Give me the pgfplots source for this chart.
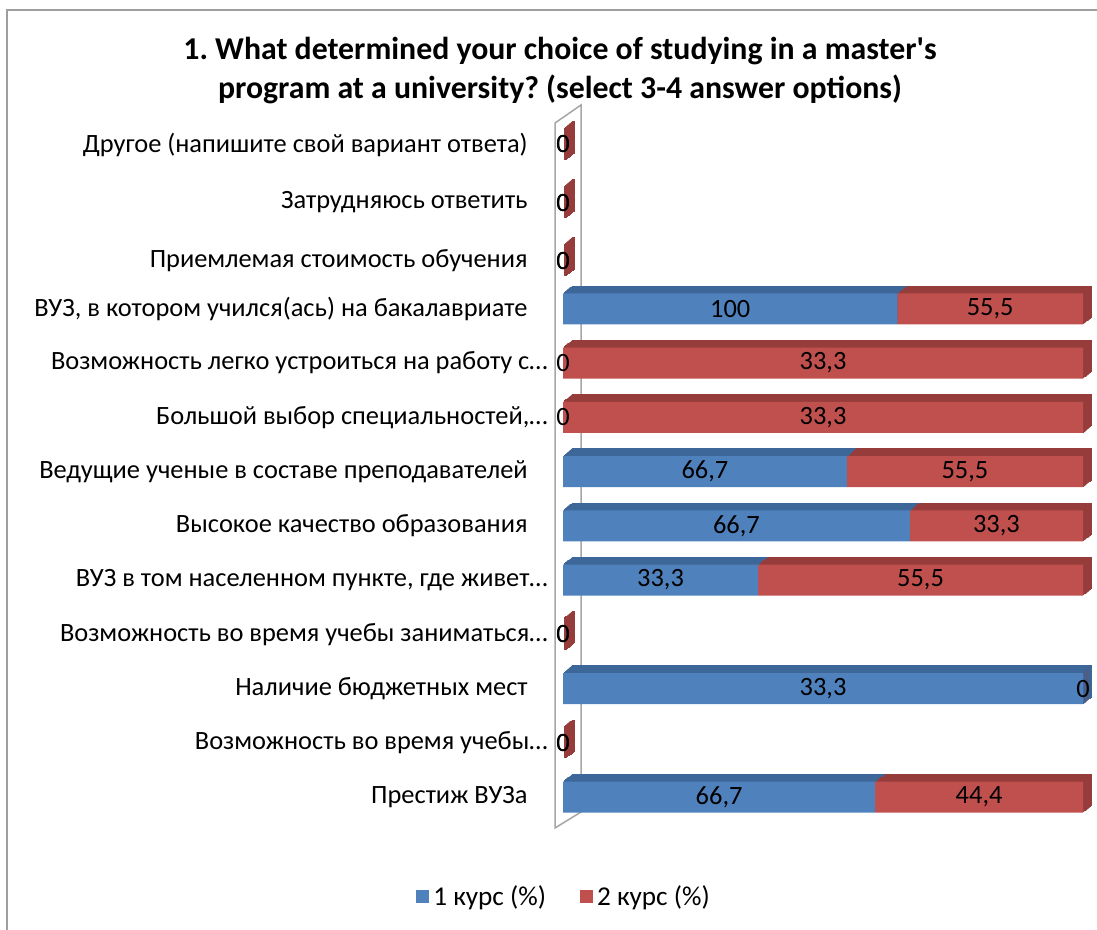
\documentclass[border=0pt]{standalone}
\usepackage{pgfplots}
\pgfplotsset{compat=1.18}
\usepackage{pgfplotstable}
\usepackage{fontspec}
\setmainfont{Carlito}
\newfontfamily\titlefont{Carlito}[Ligatures=TeXOff]
\frenchspacing

\definecolor{bfront}{HTML}{4F81BD}
\definecolor{bdark}{HTML}{3D6699}
\definecolor{rfront}{HTML}{C0504D}
\definecolor{rdark}{HTML}{963C3A}

% pos = row position (bottom row 0); a = 1 курс, b = 2 курс
\pgfplotstableread{
pos a b
0 66.7 44.4
1 0 0
2 33.3 0
3 0 0
4 33.3 55.5
5 66.7 33.3
6 66.7 55.5
7 0 33.3
8 0 33.3
9 100 55.5
9.89 0 0
10.96 0 0
12.03 0 0
}\survey
% 100% stacking
\pgfplotstablecreatecol[create col/expr={100*\thisrow{a}/max(\thisrow{a}+\thisrow{b},0.001)}]{pa}\survey
\pgfplotstablecreatecol[create col/expr={100*\thisrow{b}/max(\thisrow{a}+\thisrow{b},0.001)}]{pb}\survey
\pgfplotstablecreatecol[create col/expr={max(\thisrow{pb},0.5)}]{pbside}\survey
\pgfplotstablecreatecol[create col/expr={\thisrow{pa}/2}]{ca}\survey
\pgfplotstablecreatecol[create col/expr={\thisrow{pa}+\thisrow{pb}/2}]{cb}\survey

\pgfplotsset{
  base/.style={
    scale only axis, width=260pt, height=358pt,
    at={(281.5pt,-414.8pt)}, anchor=south west,
    xmin=0, xmax=100, ymin=-0.6, ymax=12.6,
  },
  bars/.style={base, xbar stacked, bar width=15.5pt},
}

\begin{document}
\begin{tikzpicture}[x=0.5pt,y=0.5pt]
\useasboundingbox (0,0) rectangle (1097,-930);
\draw[gray!75, line width=1pt] (7,-930) -- (7,-10) -- (1097,-10);

\node[font=\titlefont\bfseries\fontsize{15.9}{19.5}\selectfont, align=center] at (560,-71)
  {1. What determined your choice of studying in a master's\\program at a university? (select 3-4 answer options)};

% back wall
\draw[gray!70, line width=0.75pt, fill=white] (555,-828) -- (555,-123) -- (581,-105) -- (581,-812) -- cycle;

% depth of the bars: shifted dark copies
\foreach \k in {8,7,...,1}{
  \begin{axis}[bars, hide axis, xshift=\k*0.56pt, yshift=\k*0.44pt]
    \addplot[fill=bdark, draw=bdark, line width=0.6pt] table[x=pa,y=pos]{\survey};
    \addplot[fill=rdark, draw=rdark, line width=0.6pt] table[x=pbside,y=pos]{\survey};
  \end{axis}
}

\begin{axis}[bars,
  axis line style={draw=none}, major tick length=0pt,
  xtick=\empty, ytick={0,1,2,3,4,5,6,7,8,9,9.89,10.96,12.03},
  yticklabels={
    Престиж ВУЗа\hspace*{10pt},
    Возможность во время учебы…,
    Наличие бюджетных мест\hspace*{10pt},
    Возможность во время учебы заниматься…,
    {ВУЗ в том населенном пункте, где живет…},
    Высокое качество образования\hspace*{10pt},
    Ведущие ученые в составе преподавателей\hspace*{10pt},
    {Большой выбор специальностей,…},
    Возможность легко устроиться на работу с…,
    {ВУЗ, в котором учился(ась) на бакалавриате\hspace*{10pt}},
    Приемлемая стоимость обучения\hspace*{10pt},
    Затрудняюсь ответить\hspace*{10pt},
    Другое (напишите свой вариант ответа)\hspace*{10pt}},
  yticklabel style={font=\fontsize{13.2}{15}\selectfont, inner sep=0pt, xshift=-7.5pt},
  legend style={at={(0.004,-0.094)}, anchor=center, draw=none, fill=none,
    legend columns=2, font=\fontsize{13.6}{15}\selectfont,
    /tikz/every even column/.append style={column sep=15pt}},
  legend image code/.code={\fill[#1, draw=none] (0pt,-3.25pt) rectangle (6.5pt,3.25pt);},
]
  \addplot[fill=bfront, draw=none] table[x=pa,y=pos]{\survey};
  \addlegendentry{1 курс (\%)}
  \addplot[fill=rfront, draw=none] table[x=pb,y=pos]{\survey};
  \addlegendentry{2 курс (\%)}
\end{axis}

% value labels, centred in each segment
\begin{axis}[base, hide axis,
  /pgf/number format/.cd, use comma, fixed, precision=1, assume math mode=true, /pgfplots/.cd,
  every node near coord/.append style={anchor=center, font=\fontsize{13.2}{15}\selectfont, text=black},
]
  \addplot[draw=none, nodes near coords, point meta=explicit] table[x=ca,y=pos,meta=a]{\survey};
  \addplot[draw=none, nodes near coords, point meta=explicit] table[x=cb,y=pos,meta=b]{\survey};
\end{axis}
\end{tikzpicture}
\end{document}
